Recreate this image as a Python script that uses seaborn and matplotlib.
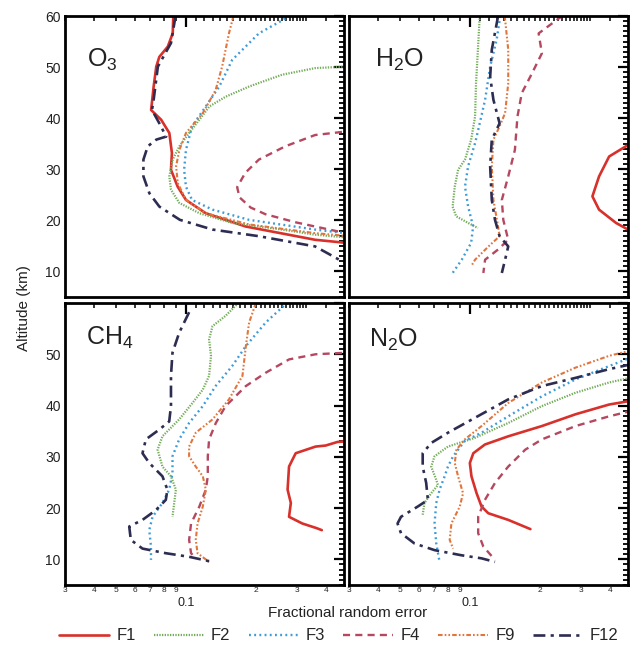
import matplotlib
matplotlib.use("Agg")
import matplotlib.pyplot as plt
from matplotlib.lines import Line2D
from matplotlib.ticker import FixedLocator, FuncFormatter, MultipleLocator
import pandas as pd
import seaborn as sns

# Profiles of fractional random error versus altitude: (altitude km, error)
SERIES = ["F1", "F2", "F3", "F4", "F9", "F12"]

# ---- O3 ----
o3_f1 = [(60, .088), (56.6, .0875), (54, .0833), (52, .0766), (50.1, .0743), (46.2, .0724),
         (41.6, .0706), (39.7, .078), (37.1, .0846), (33.2, .0868), (29.9, .086), (26.6, .0919),
         (24, .0998), (21.4, .1215), (18.8, .1805), (16.2, .36), (15.2, .6)]
o3_f2 = [(50.3, .6), (49.8, .36), (48.5, .259), (46.2, .187), (44.2, .148), (42.3, .126),
         (39.7, .114), (37.1, .103), (34.5, .0935), (31.9, .0875), (28.6, .0846), (26, .086),
         (23.4, .0935), (21.4, .114), (19.5, .158), (18.2, .259), (17.2, .36), (16.3, .6)]
o3_f3 = [(60, .28), (59.5, .268), (56.6, .206), (51.4, .158), (46.2, .139), (42.3, .1215),
         (38.4, .106), (33.8, .0998), (29.9, .098), (26.6, .0998), (24, .106), (22.1, .13),
         (20.1, .187), (18.2, .36), (17, .6)]
o3_f4 = [(37.6, .6), (37.3, .47), (36.7, .36), (34.5, .268), (31.9, .206), (29.3, .18),
         (26.5, .166), (24.5, .17), (22.5, .19), (21.2, .22), (19.6, .298), (17.8, .456), (17.3, .6)]
o3_f9 = [(60, .16), (56.6, .153), (50.1, .143), (45.5, .134), (41, .118), (37.1, .0998),
         (33.8, .0935), (30.6, .0905), (27.3, .092), (24, .0998), (21.4, .1215), (19.2, .187),
         (17.5, .36), (16.6, .6)]
o3_f12 = [(60, .09), (54.7, .086), (50.1, .0755), (43.6, .0724), (41.6, .0712), (39, .0766),
          (36.4, .082), (35.8, .0743), (34.5, .0683), (31.9, .0654), (28.6, .0654), (25.3, .0694),
          (22.7, .0766), (20.1, .094), (18.2, .13), (16.9, .206), (14.9, .36), (13.5, .41),
          (12, .47), (11, .6)]

# ---- H2O ----
h2o_f1 = [(35.5, .6), (34.5, .47), (32.5, .398), (28.6, .36), (24.7, .337), (22.1, .36),
          (19.5, .426), (18.2, .48), (17.5, .6)]
h2o_f2 = [(60, .110), (53.4, .108), (46.8, .106), (40.3, .105), (35.8, .101), (31.9, .095),
          (29.9, .0887), (26.6, .0858), (22.7, .084), (20.8, .087), (19.5, .098), (18.5, .108)]
h2o_f3 = [(60, .135), (55.3, .130), (50.1, .122), (43.6, .116), (39, .110), (35.1, .105),
          (30.6, .098), (26.6, .095), (22.7, .098), (18.8, .103), (15.6, .101), (12.3, .092), (9.7, .084)]
h2o_f4 = [(60, .25), (59.5, .241), (56.6, .1975), (52.7, .204), (48.8, .185), (44.9, .167),
          (40.3, .16), (33.8, .156), (28.6, .146), (24, .137), (20.1, .139), (16.2, .146),
          (14.3, .132), (12.3, .116), (9.7, .114)]
h2o_f9 = [(60, .141), (53.4, .146), (46.8, .146), (41, .1415), (38.4, .134), (35.8, .126),
          (30.6, .124), (24, .126), (18.8, .132), (16.9, .134), (14.9, .12), (12.3, .105), (11, .101)]
h2o_f12 = [(60, .132), (53.4, .124), (48.1, .122), (43.6, .126), (39, .134), (35.8, .124),
           (30.6, .122), (24, .124), (20.1, .128), (16.9, .134), (14.9, .146), (12.3, .1415), (9.7, .137)]

# ---- CH4 ----
ch4_f1 = [(33.3, .6), (32.9, .45), (32.2, .4), (32, .362), (30.7, .297), (28.1, .278),
          (23.6, .274), (21, .283), (18.3, .278), (17, .317), (16.1, .365), (15.7, .385)]
ch4_f2 = [(60, .168), (59.5, .1637), (57.5, .148), (55.5, .13), (52.9, .1256), (49.7, .128),
          (45.8, .1256), (43.1, .118), (40.5, .1065), (37.3, .0933), (34, .079), (31.4, .0753),
          (28.1, .079), (26.2, .086), (23.6, .0903), (21, .0888), (18.3, .0873)]
ch4_f3 = [(60, .275), (59.8, .269), (56.2, .2205), (51.6, .181), (47.7, .158), (43.8, .134),
          (39.9, .118), (36.6, .103), (33.4, .0933), (30.1, .0873), (26.8, .0873), (23.6, .0845),
          (21, .079), (18.3, .0716), (15.7, .0693), (12.5, .0705), (9.9, .0705)]
ch4_f4 = [(50.5, .6), (50, .362), (49, .278), (46.4, .2205), (43.8, .181), (39.9, .148),
          (36.6, .1343), (33.4, .1256), (30.1, .124), (26.2, .124), (23.6, .1216), (20.3, .114),
          (17, .105), (13.8, .103), (11.2, .105), (10.2, .11)]
ch4_f9 = [(60, .2), (56.2, .187), (51.6, .181), (45.8, .175), (41.2, .153), (37.3, .13),
          (34.7, .11), (32, .103), (30.1, .103), (28.1, .11), (26.2, .118), (23.6, .1216),
          (20.3, .118), (17, .112), (13.8, .11), (11.2, .112), (9.5, .1256)]
ch4_f12 = [(58.2, .103), (54.2, .0933), (50.3, .0873), (45.8, .086), (39.9, .086), (36.9, .0845),
           (35.3, .0765), (33.4, .067), (30.7, .0648), (28.8, .0693), (26.2, .079), (23.6, .083),
           (21.6, .0817), (19.6, .074), (17.7, .0648), (16.4, .0568), (13.8, .0577), (12.1, .0648),
           (11.2, .0817), (10.5, .103), (9.5, .13)]

# ---- N2O ----
n2o_f1 = [(41.3, .6), (40.9, .49), (40.2, .398), (38.3, .285), (36, .204), (34, .146),
          (32.4, .1158), (30.7, .1032), (28.8, .0997), (26.2, .1013), (22.9, .1066), (20.3, .112),
          (19, .1197), (17.7, .146), (15.9, .182)]
n2o_f2 = [(46, .6), (45.4, .49), (44.5, .398), (42.5, .285), (39.9, .204), (36.6, .146),
          (33.7, .1048), (32, .0802), (30.1, .0702), (28.1, .0679), (25.5, .0714), (24.5, .0726),
          (22.9, .0679), (21, .0635), (18.7, .0624)]
n2o_f3 = [(49.8, .6), (49.3, .49), (47.7, .398), (45.1, .285), (41.8, .204), (37.9, .146),
          (34.7, .112), (33.1, .0948), (30.1, .0844), (28.1, .0802), (26.2, .0776), (23.6, .0738),
          (21, .0714), (17, .0702), (13.1, .0714), (9.5, .0738)]
n2o_f4 = [(39.3, .6), (38.9, .49), (37.9, .398), (36, .285), (33.4, .204), (31.4, .173),
          (28.1, .146), (24.9, .128), (21.6, .1158), (18.3, .1083), (15.1, .1083), (12.5, .114), (9.9, .128)]
n2o_f9 = [(51.3, .6), (50.7, .49), (49.7, .398), (47.4, .285), (44.5, .204), (40.5, .146),
          (36, .112), (33.4, .0948), (31.4, .0873), (28.8, .0858), (26.2, .0887), (22.9, .0932),
          (20.3, .0902), (17, .083), (13.8, .0816), (12.1, .0844)]
n2o_f12 = [(48.5, .6), (48, .49), (47.1, .398), (45.4, .285), (43.8, .204), (41.2, .146),
           (37.6, .1048), (34.7, .0802), (32.7, .0679), (30.7, .0624), (28.1, .0624), (24.9, .0646),
           (21.6, .0657), (20.3, .0594), (18.3, .0503), (17, .0486), (15.1, .0503), (13.1, .0575),
           (11.8, .0702), (10.8, .0917), (10.2, .112), (9.5, .128)]

PANELS = [
    (r"O$_3$", [o3_f1, o3_f2, o3_f3, o3_f4, o3_f9, o3_f12]),
    (r"H$_2$O", [h2o_f1, h2o_f2, h2o_f3, h2o_f4, h2o_f9, h2o_f12]),
    (r"CH$_4$", [ch4_f1, ch4_f2, ch4_f3, ch4_f4, ch4_f9, ch4_f12]),
    (r"N$_2$O", [n2o_f1, n2o_f2, n2o_f3, n2o_f4, n2o_f9, n2o_f12]),
]

# Axis ticks and labels
X_MAJOR = [0.1]
X_LABELLED_MINOR = {0.03: "3", 0.04: "4", 0.05: "5", 0.06: "6", 0.07: "7", 0.08: "8",
                    0.09: "9", 0.2: "2", 0.3: "3", 0.4: "4"}
X_FINE = [round(0.11 + 0.01 * i, 2) for i in range(23) if round(0.11 + 0.01 * i, 2) not in (0.2, 0.3)]
Y_MAJOR = [10, 20, 30, 40, 50, 60]

sns.set_theme(style="white")
plt.rcParams["font.family"] = ["Liberation Sans", "DejaVu Sans"]
plt.rcParams["mathtext.fontset"] = "custom"
plt.rcParams["mathtext.rm"] = "Liberation Sans"
plt.rcParams["mathtext.it"] = "Liberation Sans:italic"
plt.rcParams["mathtext.bf"] = "Liberation Sans:bold"

STYLE = {
    "F1": dict(color="#d8302b", linestyle="-", linewidth=1.9),
    "F2": dict(color="#74ad5a", linestyle=(0, (0.6, 0.6)), linewidth=1.6),
    "F3": dict(color="#3d9bd6", linestyle=(0, (0.8, 1.4)), linewidth=1.7),
    "F4": dict(color="#b5475f", linestyle=(0, (3, 2.2)), linewidth=1.7),
    "F9": dict(color="#e2753c", linestyle=(0, (2.2, 1, 0.8, 1, 0.8, 1)), linewidth=1.5),
    "F12": dict(color="#2d2d52", linestyle=(0, (4.5, 2, 1.2, 2)), linewidth=1.9),
}

W, H = 631, 646
fig = plt.figure(figsize=(W / 100, H / 100), dpi=100)

boxes = [
    (65, 16, 279, 281), (349, 16, 279, 281),
    (65, 303, 279, 282), (349, 303, 279, 282),
]
label_pos = [(0.08, 0.845), (0.092, 0.845), (0.075, 0.875), (0.07, 0.868)]


def x_minor_fmt(v, pos):
    for k, s in X_LABELLED_MINOR.items():
        if abs(v - k) < 1e-6:
            return s
    return ""


for i, ((title, profiles), (px, py, pw, ph)) in enumerate(zip(PANELS, boxes)):
    ax = fig.add_axes([px / W, 1 - (py + ph) / H, pw / W, ph / H])
    for name, prof in zip(SERIES, profiles):
        df = pd.DataFrame(prof, columns=["alt", "err"])
        sns.lineplot(data=df, x="err", y="alt", sort=False, estimator=None,
                     legend=False, ax=ax, **STYLE[name])
    ax.set_xscale("log")
    ax.set_xlim(0.03, 0.48)
    ax.set_ylim(5, 60)
    ax.set_xlabel("")
    ax.set_ylabel("")

    row, col = divmod(i, 2)
    ax.xaxis.set_major_locator(FixedLocator(X_MAJOR))
    ax.xaxis.set_minor_locator(FixedLocator(sorted(list(X_LABELLED_MINOR) + X_FINE)))
    ax.xaxis.set_major_formatter(FuncFormatter(lambda v, p: "0.1"))
    ax.xaxis.set_minor_formatter(FuncFormatter(x_minor_fmt))
    ax.yaxis.set_major_locator(FixedLocator(Y_MAJOR))
    ax.yaxis.set_minor_locator(MultipleLocator(1))
    if row == 1:
        ax.yaxis.set_major_formatter(FuncFormatter(lambda v, p: "" if v >= 60 else f"{v:.0f}"))
    else:
        ax.yaxis.set_major_formatter(FuncFormatter(lambda v, p: f"{v:.0f}"))

    ax.tick_params(axis="both", which="both", direction="in", top=True, right=True,
                   color="black", labelcolor="#222222")
    ax.tick_params(axis="y", which="major", length=7, width=1.6, labelsize=10, pad=3)
    ax.tick_params(axis="y", which="minor", length=3.5, width=1.3)
    ax.tick_params(axis="x", which="major", length=8, width=1.6, labelsize=9, pad=9)
    ax.tick_params(axis="x", which="minor", length=3.5, width=1.1, labelsize=6, pad=1.5)
    if row == 0:
        ax.tick_params(axis="x", which="both", labelbottom=False)
    if col == 1:
        ax.tick_params(axis="y", which="both", labelleft=False)

    for sp in ax.spines.values():
        sp.set_color("black")
        sp.set_linewidth(2.0)

    lx, ly = label_pos[i]
    ax.text(lx, ly, title, transform=ax.transAxes, fontsize=18, color="#222222",
            ha="left", va="center")

fig.text(24 / W, 1 - 308 / H, "Altitude (km)", rotation=90, ha="center", va="center",
         fontsize=11, color="#222222")
fig.text(348 / W, 1 - 613 / H, "Fractional random error", ha="center", va="center",
         fontsize=11, color="#222222")

handles = [Line2D([], [], **STYLE[s]) for s in SERIES]
fig.legend(handles, SERIES, loc="center", bbox_to_anchor=(339 / W, 1 - 636 / H), ncol=6,
           frameon=False, fontsize=12, handlelength=3.0, handletextpad=0.42,
           columnspacing=1.1, borderpad=0)

fig.savefig("out.png", dpi=100, facecolor="white")
